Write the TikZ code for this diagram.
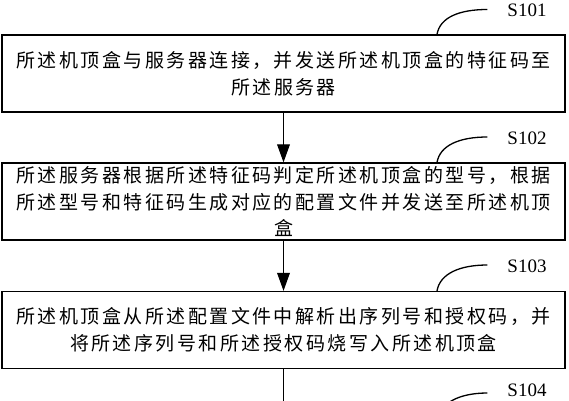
\documentclass[tikz,border=0pt]{standalone}
\usepackage{fontspec}
\newfontfamily\cjk[LetterSpace=13]{Noto Sans CJK SC}
\newfontfamily\lab{Liberation Serif}
\usetikzlibrary{arrows.meta}
\tikzset{
  stepbox/.style={draw, line width=1.3pt, minimum height=77pt, text width=563pt,
    inner sep=0pt, align=center, font=\cjk\fontsize{19}{26.5}\selectfont},
  steplabel/.style={font=\lab\fontsize{19}{20}\selectfont, inner sep=0pt},
  flow/.style={line width=1.2pt, -{Triangle[width=12.7pt,length=18pt]}},
  tag/.style={line width=1.3pt}
}
\begin{document}
\begin{tikzpicture}[x=1pt,y=-1pt]
\useasboundingbox[fill=white] (0,0) rectangle (569,400);
\node[stepbox] (b1) at (283.5,73.5) {所述机顶盒与服务器连接，并发送所述机顶盒的特征码至\\所述服务器};
\node[stepbox] (b2) at (283.5,201.5) {所述服务器根据所述特征码判定所述机顶盒的型号，根据\\所述型号和特征码生成对应的配置文件并发送至所述机顶\\盒};
\node[stepbox] (b3) at (283.5,330) {所述机顶盒从所述配置文件中解析出序列号和授权码，并\\将所述序列号和所述授权码烧写入所述机顶盒};
\coordinate (b4top) at (283.5,420);
\coordinate (b4tag) at (437,420);
\draw[flow] (b1.south) -- (b2.north);
\draw[flow] (b2.south) -- (b3.north);
\draw[flow] (b3.south) -- (b4top);
\node[steplabel] (s1) at (527,10.5) {S101};
\node[steplabel] (s2) at (527,138) {S102};
\node[steplabel] (s3) at (527,266) {S103};
\node[steplabel] (s4) at (527,390) {S104};
\draw[tag] ([xshift=153.5pt]b1.north) .. controls +(3,-17) and +(-28,0) .. ([xshift=-20pt,yshift=1pt]s1.west);
\draw[tag] ([xshift=153.5pt]b2.north) .. controls +(3,-17) and +(-28,0) .. ([xshift=-20pt,yshift=1pt]s2.west);
\draw[tag] ([xshift=153.5pt]b3.north) .. controls +(3,-17) and +(-28,0) .. ([xshift=-20pt,yshift=1pt]s3.west);
\draw[tag] (b4tag) .. controls +(3,-17) and +(-28,0) .. ([xshift=-20pt,yshift=-3pt]s4.west);
\end{tikzpicture}
\end{document}
